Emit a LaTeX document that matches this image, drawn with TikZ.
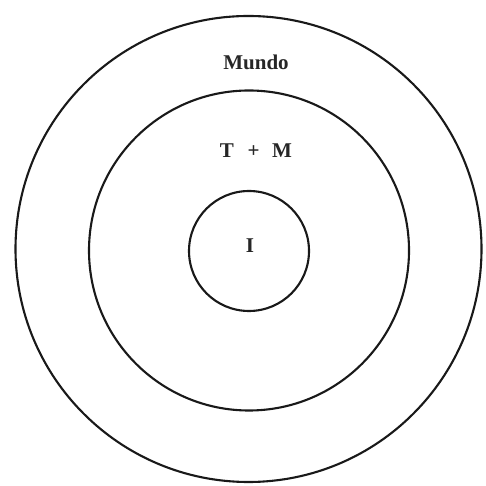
\documentclass[tikz,border=0pt]{standalone}
\usepackage{fontspec}
\setmainfont{Liberation Serif}
\begin{document}
\begin{tikzpicture}[x=1pt,y=1pt,
  ring/.style={draw=black!90,line width=2.1pt},
  lbl/.style={font=\fontsize{21}{24}\selectfont\bfseries,text=black!85,inner sep=0pt}]
\useasboundingbox (0,0) rectangle (486,486);
\fill[white] (0,0) rectangle (486,486);
\draw[ring] (248.5,237) circle[radius=233];
\draw[ring] (249,235.5) circle[radius=160];
\draw[ring] (249,235) circle[radius=60];
\node[lbl] (mundo) at (256,424) {Mundo};
\node[lbl] (tm) at (256,335) {T\hspace{0.65em}+\hspace{0.6em}M};
\node[lbl] (i) at (250,240) {I};
\end{tikzpicture}
\end{document}
